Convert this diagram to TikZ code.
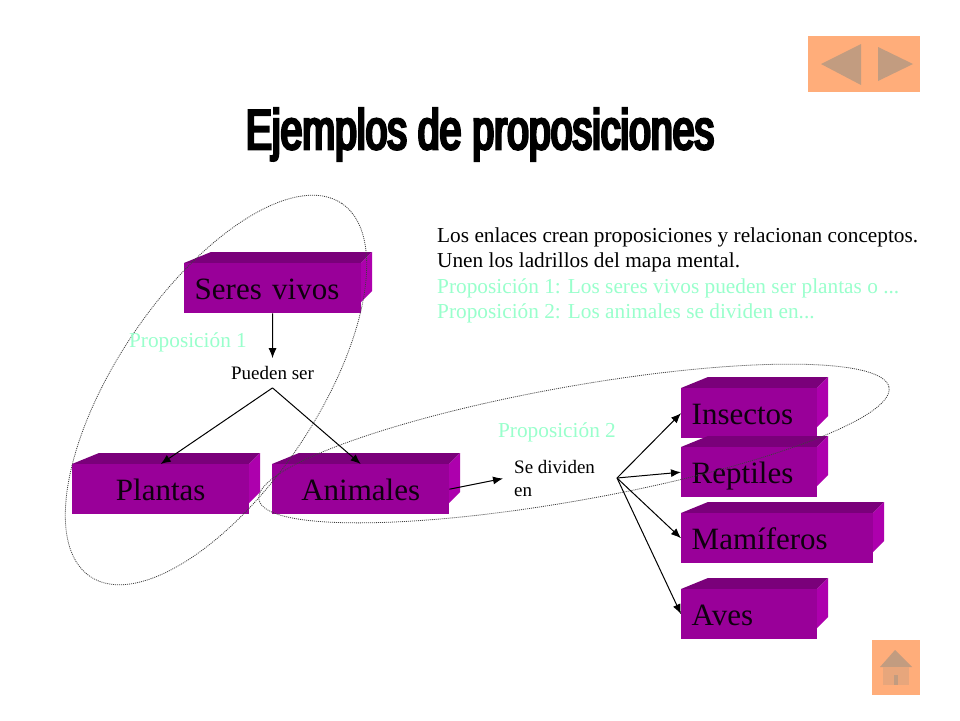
\documentclass[tikz,border=0pt]{standalone}
\usepackage{fontspec}
\setmainfont{Liberation Serif}
\newfontfamily\titulofont[FakeStretch=0.7,FakeBold=5]{Liberation Sans}
\usetikzlibrary{arrows.meta}
\definecolor{frente}{HTML}{990099}
\definecolor{techo}{HTML}{7A007A}
\definecolor{lado}{HTML}{AD00AD}
\definecolor{menta}{HTML}{99FFCC}
\definecolor{naranja}{HTML}{FFAD7A}
\definecolor{icono}{HTML}{C29C80}
\tikzset{
  ladrillotxt/.style={inner xsep=10.5pt,inner ysep=0pt,minimum height=50pt,text height=23pt,text depth=0pt,font=\fontsize{31}{33}\selectfont,text=black!90!frente},
  flecha/.style={-{Latex[length=10pt,width=8pt]},line width=1pt},
  enlace/.style={font=\fontsize{19}{23}\selectfont,inner xsep=11pt,inner ysep=8pt},
  prop/.style={font=\fontsize{21.3}{25}\selectfont,text=menta,inner sep=0pt},
  contorno/.style={draw=black!75,line width=0.8pt,dash pattern=on 1pt off 1pt},
}
% ladrillo: nombre, x, y arriba, y abajo, ancho, alineacion, texto
\newcommand{\ladrillo}[7]{
  \fill[techo] (#2,#3) -- ++(27,-11) -- ++(#5-16,0) -- ++(-11,11) -- cycle;
  \fill[lado] (#2+#5,#3) -- ++(11,-11) -- ++(0,39) -- ++(-11,11) -- cycle;
  \node[ladrillotxt,fill=frente,anchor=north west,text width=#5pt-21pt,align=#6] (#1) at (#2,#3) {#7};
}
\begin{document}
\begin{tikzpicture}[x=1pt,y=-1pt]
  \useasboundingbox[fill=white] (0,0) rectangle (960,720);

  % botones de navegacion
  \fill[naranja] (808,36) rectangle (920,92);
  \fill[icono] (821,64) -- (861,44) -- (861,85) -- cycle;
  \fill[icono] (878,47) -- (913,64) -- (878,81) -- cycle;
  \fill[naranja] (872,640) rectangle (920,695);
  \fill[icono] (880,667) -- (895,650) -- (912,667) -- cycle;
  \fill[icono!40!naranja] (883,667) rectangle (909,685);
  \fill[icono] (894,675) rectangle (898,685);

  % titulo
  \node[font=\titulofont\fontsize{56}{56}\selectfont] (titulo) at (480,134.5) {Ejemplos de proposiciones};

  % texto
  \node[anchor=north west,inner sep=0pt,align=left,font=\fontsize{21.3}{25.3}\selectfont] (texto) at (437,227.5)
    {\makebox[481pt][s]{Los enlaces crean proposiciones y relacionan conceptos.}\\
     Unen los ladrillos del mapa mental.\\
     {\color{menta}Proposición 1: Los seres vivos pueden ser plantas o ...}\\
     {\color{menta}Proposición 2: Los animales se dividen en...}};

  % ladrillos
  \ladrillo{seres}{184}{263}{313}{177}{left}{Seres vivos}
  \ladrillo{plantas}{72}{464}{514}{177}{center}{Plantas}
  \ladrillo{animales}{272}{464}{514}{177}{center}{Animales}
  \ladrillo{insectos}{681}{388}{438}{136}{left}{Insectos}
  \ladrillo{reptiles}{681}{447}{497}{136}{left}{Reptiles}
  \ladrillo{mamiferos}{681}{513}{563}{192}{left}{Mamíferos}
  \ladrillo{aves}{681}{589}{639}{136}{left}{Aves}

  % contornos de las proposiciones
  \draw[contorno,rotate around={56:(216,390)}] (216,390) ellipse [x radius=225,y radius=100];
  \draw[contorno,rotate around={10.1:(574,443.5)}] (574,443.5) ellipse [x radius=320,y radius=57];

  \node[prop] (prop1) at (188,342) {Proposición 1};
  \node[prop] (prop2) at (557,432) {Proposición 2};

  % enlaces
  \node[enlace] (pueden) at (272.5,373) {Pueden ser};
  \node[enlace,anchor=west,align=left] (dividen) at (503,478.5) {Se dividen\\en};
  \coordinate (reparto) at (617,478);

  \draw[flecha] (seres.south) -- (pueden.north);
  \draw[flecha] (pueden.south) -- (plantas.north);
  \draw[flecha] (pueden.south) -- (animales.north);
  \draw[flecha] (animales.east) -- (dividen.west);
  \draw[flecha] (reparto) -- (insectos.west);
  \draw[flecha] (reparto) -- (reptiles.west);
  \draw[flecha] (reparto) -- (mamiferos.west);
  \draw[flecha] (reparto) -- (aves.west);
\end{tikzpicture}
\end{document}
